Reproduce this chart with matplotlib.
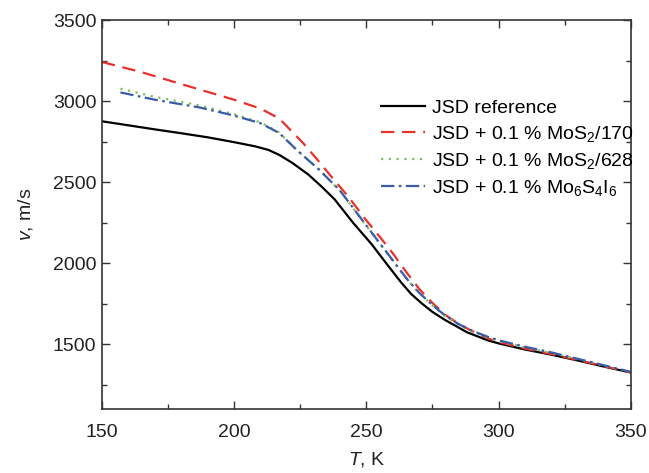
import matplotlib
matplotlib.use("Agg")
import matplotlib.pyplot as plt
from matplotlib.ticker import MultipleLocator

plt.rcParams['font.family'] = ['Liberation Sans', 'DejaVu Sans']
plt.rcParams['mathtext.fontset'] = 'custom'
plt.rcParams['mathtext.rm'] = 'Liberation Sans'
plt.rcParams['mathtext.it'] = 'Liberation Sans:italic'

# Sound velocity vs temperature
t_ref = [150, 160, 170, 180, 190, 200, 208, 213, 217, 222, 228, 233, 238, 245,
         252, 258, 263, 267, 271, 275, 280, 284, 288, 296, 300, 310, 320, 330, 340, 350]
v_ref = [2877, 2852, 2827, 2803, 2778, 2748, 2722, 2700, 2670, 2620, 2549, 2475, 2395, 2250,
         2118, 1990, 1885, 1810, 1752, 1700, 1648, 1612, 1575, 1524, 1506, 1468, 1436, 1400, 1362, 1326]

t_170 = [150, 165, 183, 200, 210, 217, 226, 232, 236, 243, 250, 256, 260, 265,
         270, 275, 280, 285, 290, 296, 300, 310, 320, 330, 340, 350]
v_170 = [3243, 3180, 3092, 3010, 2955, 2895, 2744, 2630, 2550, 2415, 2265, 2145, 2062, 1948,
         1842, 1755, 1680, 1625, 1582, 1537, 1514, 1474, 1440, 1403, 1365, 1326]

t_628 = [157, 170, 187, 200, 210, 217, 224, 232, 240, 246, 252, 258, 262, 266,
         270, 275, 280, 285, 290, 296, 300, 310, 320, 330, 340, 350]
v_628 = [3078, 3028, 2975, 2920, 2870, 2808, 2695, 2582, 2448, 2318, 2188, 2058, 1972, 1888,
         1816, 1740, 1672, 1620, 1580, 1541, 1520, 1482, 1447, 1408, 1368, 1329]

t_mo = [157, 170, 187, 200, 210, 217, 224, 232, 240, 246, 252, 258, 262, 266,
        270, 275, 280, 285, 290, 296, 300, 310, 320, 330, 340, 350]
v_mo = [3055, 3010, 2962, 2912, 2865, 2805, 2695, 2580, 2450, 2320, 2190, 2062, 1975, 1890,
        1818, 1742, 1675, 1624, 1584, 1546, 1525, 1485, 1450, 1410, 1370, 1330]

x_ticks = [150, 200, 250, 300, 350]
y_ticks = [1500, 2000, 2500, 3000, 3500]

labels = ['JSD reference',
          r'JSD + 0.1 % MoS$_2$/170',
          r'JSD + 0.1 % MoS$_2$/628',
          r'JSD + 0.1 % Mo$_6$S$_4$I$_6$']

fig = plt.figure(figsize=(6.49, 4.73), dpi=100)
ax = fig.add_axes([0.157, 0.135, 0.815, 0.822])

ax.plot(t_ref, v_ref, color='black', lw=1.6, label=labels[0])
ax.plot(t_170, v_170, color='#e8302c', lw=1.6, ls=(0, (6, 3.5)), label=labels[1])
ax.plot(t_628, v_628, color='#7cc25a', lw=1.6, ls=(0, (1, 2.5)), label=labels[2])
ax.plot(t_mo, v_mo, color='#3a5aaa', lw=1.6, ls=(0, (6, 2, 1.2, 2)), label=labels[3])

ax.set_xlim(150, 350)
ax.set_ylim(1100, 3500)
ax.set_xticks(x_ticks)
ax.set_yticks(y_ticks)
ax.xaxis.set_minor_locator(MultipleLocator(25))
ax.yaxis.set_minor_locator(MultipleLocator(250))
ax.tick_params(which='both', direction='in', top=True, right=True,
               width=1.0, color='#333333', labelsize=14, labelcolor='#222222')
ax.tick_params(which='major', length=6)
ax.tick_params(which='minor', length=3.5)
ax.tick_params(axis='x', which='major', pad=11)
ax.tick_params(axis='y', which='major', pad=4)
for s in ax.spines.values():
    s.set_color('#333333')
    s.set_linewidth(1.2)

ax.set_xlabel(r'$T$, K', fontsize=14, color='#222222', labelpad=6)
ax.set_ylabel(r'$v$, m/s', fontsize=14, color='#222222', labelpad=13)

ax.legend(loc='upper left', bbox_to_anchor=(0.528, 0.797), frameon=False,
          fontsize=14, handlelength=2.25, handletextpad=0.35,
          labelspacing=0.36, borderpad=0, borderaxespad=0)

fig.savefig('out.png', dpi=100)
